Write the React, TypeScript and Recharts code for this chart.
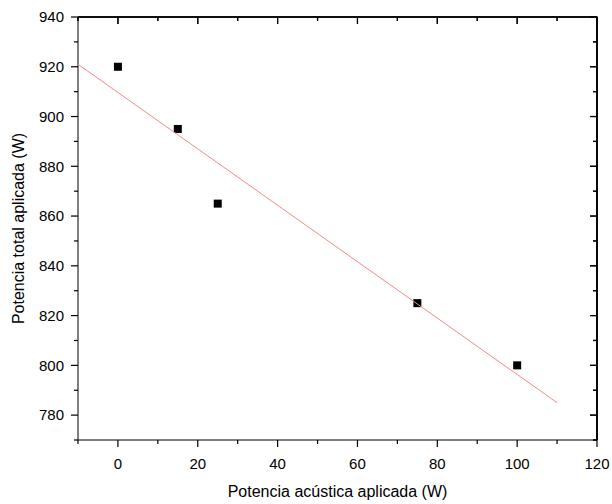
import React from 'react';
import * as Recharts from 'recharts';
import { ScatterChart, Scatter, XAxis, YAxis, Label, CartesianGrid } from 'recharts';

// measured points
const acousticPower = [0, 15, 25, 75, 100];
const totalPower = [920, 895, 865, 825, 800];

// linear fit, end points
const fitX = [-10, 110];
const fitY = [921, 785];

const xMin = -10, xMax = 120, yMin = 770, yMax = 940;
const xLabels = [0, 20, 40, 60, 80, 100, 120];
const yLabels = [780, 800, 820, 840, 860, 880, 900, 920, 940];
const xTicks = [-10, 0, 10, 20, 30, 40, 50, 60, 70, 80, 90, 100, 110, 120];
const yTicks = [770, 780, 790, 800, 810, 820, 830, 840, 850, 860, 870, 880, 890, 900, 910, 920, 930, 940];

const points = acousticPower.map((x, i) => ({ x, y: totalPower[i] }));
const fitLine = fitX.map((x, i) => ({ x, y: fitY[i] }));

// box edges and tick anchors
const frame = [
  { x: xMin, y: yMax },
  { x: xMax, y: yMax },
  { x: xMax, y: yMin },
];
const bottomMarks = xTicks.map((x) => ({ x, y: yMin }));
const topMarks = xTicks.map((x) => ({ x, y: yMax }));
const leftMarks = yTicks.map((y) => ({ x: xMin, y }));
const rightMarks = yTicks.map((y) => ({ x: xMax, y }));

const FONT = 'Liberation Sans, Arial, sans-serif';
const MAJOR = 7;
const MINOR = 4;
const tickLen = (v: number) => (v % 20 === 0 ? MAJOR : MINOR);

const tickStyle = { fill: '#000', fontSize: 15, fontFamily: FONT };
const labelStyle = { fontSize: 16, fontFamily: FONT, fill: '#000' };
const yLabelStyle = { fontSize: 16, fontFamily: FONT, fill: '#000', textAnchor: 'middle' };

const BottomMark = (props: any) => {
  const { cx, cy, payload } = props;
  return <line x1={cx} x2={cx} y1={cy} y2={cy + tickLen(payload.x)} stroke="#000" strokeWidth={1.2} />;
};
const TopMark = (props: any) => {
  const { cx, cy, payload } = props;
  return <line x1={cx} x2={cx} y1={cy} y2={cy + tickLen(payload.x)} stroke="#000" strokeWidth={1.2} />;
};
const LeftMark = (props: any) => {
  const { cx, cy, payload } = props;
  return <line x1={cx} x2={cx - tickLen(payload.y)} y1={cy} y2={cy} stroke="#000" strokeWidth={1.2} />;
};
const RightMark = (props: any) => {
  const { cx, cy, payload } = props;
  return <line x1={cx} x2={cx - tickLen(payload.y)} y1={cy} y2={cy} stroke="#000" strokeWidth={1.2} />;
};

const SquareDot = (props: any) => {
  const { cx, cy } = props;
  return <rect x={cx - 4} y={cy - 4} width={8} height={8} fill="#000" />;
};

const NoDot = () => null;

// top/right edge of the box with inward ticks, placed from the chart's plot area
const usePlotAreaSafe: () => any = (Recharts as any).usePlotArea || (() => undefined);

const BoxEdges = () => {
  const area = usePlotAreaSafe();
  if (!area) return null;
  const { x, y, width, height } = area;
  const px = (v: number) => x + ((v - xMin) / (xMax - xMin)) * width;
  const py = (v: number) => y + height - ((v - yMin) / (yMax - yMin)) * height;
  return (
    <g>
      <polyline
        points={`${x},${y} ${x + width},${y} ${x + width},${y + height}`}
        fill="none"
        stroke="#000"
        strokeWidth={1.2}
      />
      {xTicks.map((v) => (
        <line key={`t${v}`} x1={px(v)} x2={px(v)} y1={y} y2={y + tickLen(v)} stroke="#000" strokeWidth={1.2} />
      ))}
      {yTicks.map((v) => (
        <line
          key={`r${v}`}
          x1={x + width}
          x2={x + width - tickLen(v)}
          y1={py(v)}
          y2={py(v)}
          stroke="#000"
          strokeWidth={1.2}
        />
      ))}
    </g>
  );
};

export default function App() {
  return (
    <div style={{ position: 'absolute', left: 0, top: 0, background: '#fff' }}>
      <ScatterChart width={612} height={504} margin={{ top: 7, right: 5, bottom: 14, left: 18 }}>
        <CartesianGrid
          horizontalValues={[yMax]}
          verticalValues={[xMax]}
          stroke="#000"
          strokeWidth={1.2}
          strokeOpacity={1}
        />
        <XAxis
          type="number"
          dataKey="x"
          domain={[xMin, xMax]}
          ticks={xLabels}
          interval={0}
          height={50}
          tickSize={7}
          tickMargin={11}
          tickLine={false}
          tick={tickStyle}
          stroke="#000"
        >
          <Label value="Potencia acústica aplicada (W)" position="insideBottom" offset={-7} style={labelStyle} />
        </XAxis>
        <YAxis
          type="number"
          dataKey="y"
          domain={[yMin, yMax]}
          ticks={yLabels}
          interval={0}
          width={60}
          tickSize={7}
          tickMargin={7}
          tickLine={false}
          tick={tickStyle}
          stroke="#000"
        >
          <Label value="Potencia total aplicada (W)" angle={-90} position="insideLeft" offset={0} style={yLabelStyle} />
        </YAxis>
        <XAxis
          xAxisId="t"
          orientation="top"
          type="number"
          dataKey="x"
          domain={[xMin, xMax]}
          height={10}
          tick={false}
          tickLine={false}
          stroke="#000"
        />
        <YAxis
          yAxisId="r"
          orientation="right"
          type="number"
          dataKey="y"
          domain={[yMin, yMax]}
          width={10}
          tick={false}
          tickLine={false}
          stroke="#000"
        />

        <Scatter data={points} shape={<SquareDot />} isAnimationActive={false} />
        <Scatter
          xAxisId="t"
          yAxisId="r"
          data={fitLine}
          line={{ stroke: '#f28a8a', strokeWidth: 1 }}
          shape={<NoDot />}
          isAnimationActive={false}
        />

        <Scatter data={frame} line={{ stroke: '#000', strokeWidth: 1.2 }} shape={<NoDot />} isAnimationActive={false} />
        <Scatter data={bottomMarks} shape={<BottomMark />} isAnimationActive={false} />
        <Scatter data={leftMarks} shape={<LeftMark />} isAnimationActive={false} />
        <Scatter data={topMarks} shape={<TopMark />} isAnimationActive={false} />
        <Scatter data={rightMarks} shape={<RightMark />} isAnimationActive={false} />
        <BoxEdges />
      </ScatterChart>
    </div>
  );
}
